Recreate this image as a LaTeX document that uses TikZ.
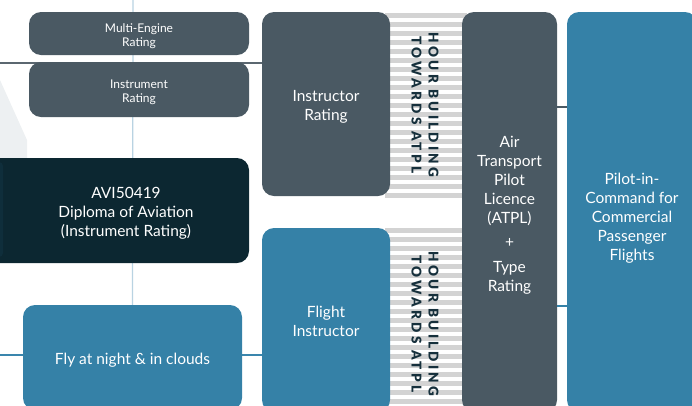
\documentclass[tikz,border=0pt]{standalone}
\usepackage{fontspec}
\setmainfont{Lato}
\newfontfamily\trackfont[LetterSpace=24]{Lato Black}
\usetikzlibrary{backgrounds}
\definecolor{slate}{HTML}{4A5963}
\definecolor{darkbox}{HTML}{0C2731}
\definecolor{darkedge}{HTML}{0F2E3B}
\definecolor{bluebox}{HTML}{3581A7}
\definecolor{stripe}{HTML}{D3D3D3}
\definecolor{navy}{HTML}{16303C}
\definecolor{paleline}{HTML}{B9D3E2}
\definecolor{grayline}{HTML}{5B6770}
\definecolor{blueline}{HTML}{3A86AD}
\definecolor{paleshape}{HTML}{EDF0F2}
\newcommand{\tp}[1]{\rule{0pt}{#1pt}}
\tikzset{
  box/.style={rounded corners=12pt, inner sep=0pt, text=white, align=center},
  bigtext/.style={font=\fontsize{15.5}{19}\selectfont},
  smalltext/.style={font=\fontsize{12}{14}\selectfont},
  track/.style={text=navy, align=center, rotate=-90, font=\fontsize{13.5}{17}\trackfont},
  link/.style={line width=1.6pt},
}
\begin{document}
\begin{tikzpicture}[x=1pt,y=-1pt]
\useasboundingbox (0,0) rectangle (692,405);
% light background shape
\fill[paleshape] (0,80) -- (27,140) -- (27,158) -- (0,158) -- cycle;
% stripes
\foreach \y in {13,22,...,193} {\fill[stripe] (385,\y) rectangle (467,\y+5);}
\foreach \y in {228,237,...,405} {\fill[stripe] (385,\y) rectangle (467,\y+5);}
% boxes
\node[box, fill=slate, minimum width=220pt, minimum height=43pt, smalltext] (me) at (139,33.5) {\tp{14}Multi-Engine\\Rating};
\node[box, fill=slate, minimum width=220pt, minimum height=55pt, smalltext] (ir) at (139,89.5) {\tp{14}Instrument\\Rating};
\node[box, fill=darkbox, minimum width=269pt, minimum height=105pt] (avi) at (114.5,210.5) {};
\fill[darkedge, rounded corners=4pt] (-20,162) rectangle (3,257);
\node[text=white, align=center, bigtext, inner sep=0pt] (avitxt) at (126,210.5) {\tp{17}AVI50419\\Diploma of Aviation\\(Instrument Rating)};
\node[box, fill=bluebox, minimum width=219pt, minimum height=105pt, bigtext] (fly) at (132.5,357.5) {\tp{16}Fly at night \& in clouds};
\node[box, fill=slate, minimum width=128pt, minimum height=184pt, bigtext] (instr) at (326,104) {\tp{17}Instructor\\Rating};
\node[box, fill=bluebox, minimum width=128pt, minimum height=184pt, bigtext] (fi) at (326,320) {\tp{14}Flight\\Instructor};
\node[box, fill=slate, minimum width=95pt, minimum height=400pt, bigtext] (atpl) at (509.5,212) {\tp{17}Air\\Transport\\Pilot\\Licence\\(ATPL)\\[5pt]+\\[6pt]Type\\Rating};
\node[box, fill=bluebox, minimum width=130pt, minimum height=400pt, bigtext] (pic) at (632,212) {\tp{23}Pilot-in-\\Command for\\Commercial\\Passenger\\Flights};
% track labels
\node[track] (hb1) at (425,105) {HOUR BUILDING\\TOWARDS ATPL};
\node[track] (hb2) at (425,324) {HOUR BUILDING\\TOWARDS ATPL};
% connectors
\coordinate (topv) at (133,0);
\coordinate (lg) at (0,63);
\coordinate (lb) at (0,355);
\begin{pgfonlayer}{background}
\draw[paleline, line width=1.2pt] (topv) -- (fly.north);
\draw[grayline, line width=1.5pt] (lg) -- (lg -| instr.west);
\draw[blueline, link] (lb) -- (lb -| fi.west);
\end{pgfonlayer}
\coordinate (ap1) at (atpl.east |- 0,107);
\coordinate (ap2) at (atpl.east |- 0,306);
\draw[slate, link] (ap1) -- (ap1 -| pic.west);
\draw[bluebox, link] (ap2) -- (ap2 -| pic.west);
\end{tikzpicture}
\end{document}
